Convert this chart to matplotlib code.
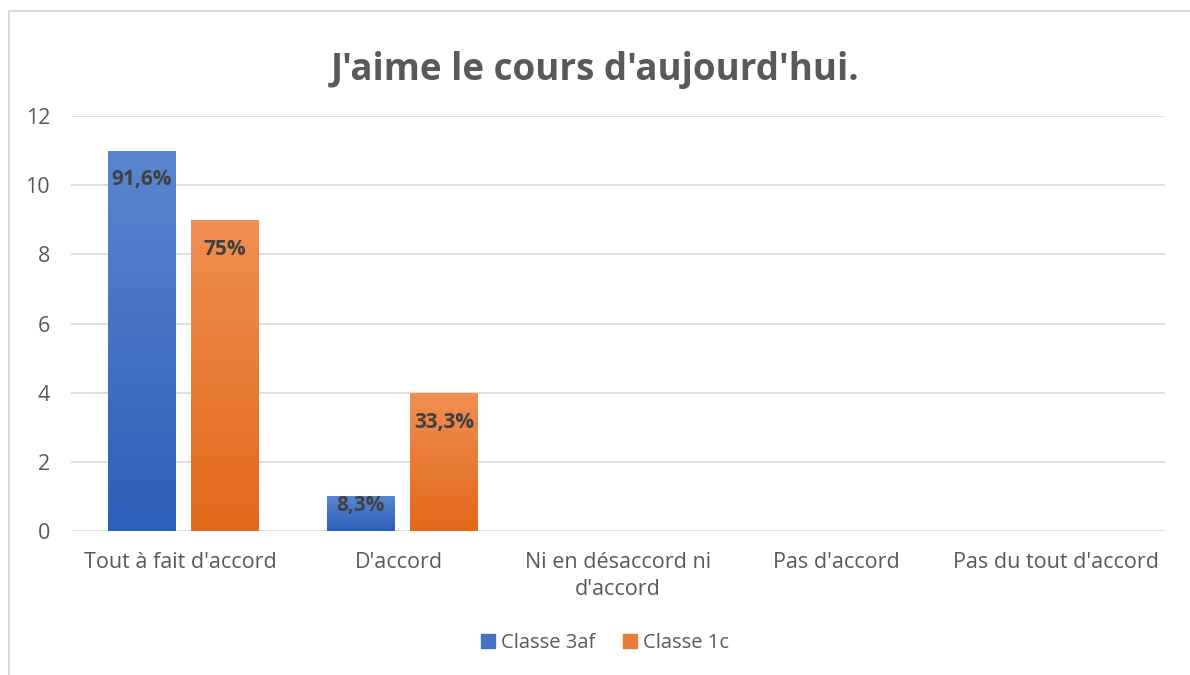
import numpy as np
import matplotlib.pyplot as plt
from matplotlib.colors import LinearSegmentedColormap
from matplotlib.patches import Rectangle

categories = ["Tout à fait d'accord", "D'accord", "Ni en désaccord ni\nd'accord",
              "Pas d'accord", "Pas du tout d'accord"]
series_names = ["Classe 3af", "Classe 1c"]
classe_3af = [11, 1, 0, 0, 0]
classe_1c = [9, 4, 0, 0, 0]
labels_3af = ["91,6%", "8,3%", "", "", ""]
labels_1c = ["75%", "33,3%", "", "", ""]
yticks = [0, 2, 4, 6, 8, 10, 12]

plt.rcParams['font.family'] = ['Open Sans', 'DejaVu Sans']

fig = plt.figure(figsize=(11.9, 6.75), dpi=100)
ax = fig.add_axes([71/1190, 1-531/675, 1094/1190, 415/675])

# chart frame (left and top edges visible)
fig.add_artist(Rectangle((9/1190, -0.1), 1.2, 1-11/675+0.1, transform=fig.transFigure,
                         fill=False, edgecolor='#d9d9d9', linewidth=1.5))

grads = {
    "Classe 3af": LinearSegmentedColormap.from_list('b', ['#2c5fba', '#5b86cf']),
    "Classe 1c": LinearSegmentedColormap.from_list('o', ['#e2681a', '#f08f52']),
}
flat = {"Classe 3af": '#4472c4', "Classe 1c": '#ed7d31'}

x = np.arange(len(categories))
w = 0.31
offs = [-0.175, 0.205]
grad = np.linspace(0, 1, 256).reshape(-1, 1)

for name, vals, labs, off in zip(series_names, [classe_3af, classe_1c], [labels_3af, labels_1c], offs):
    bars = ax.bar(x + off, vals, w, color=flat[name], label=name, zorder=2)
    for b, v, lab in zip(bars, vals, labs):
        if v <= 0:
            continue
        b.set_facecolor('none')
        b.set_edgecolor('none')
        x0 = b.get_x()
        im = ax.imshow(grad, cmap=grads[name], origin='lower', aspect='auto',
                       extent=[x0, x0 + w, 0, v], zorder=2)
        im.set_clip_path(b)
        ax.text(x0 + w / 2, max(v - 0.85, 0.75), lab, ha='center', va='center',
                fontsize=15, fontweight='bold', color='#404040', zorder=3)

ax.set_xlim(-0.5, len(categories) - 0.5)
ax.set_ylim(0, 12)
ax.set_yticks(yticks)
ax.set_xticks(x)
ax.set_xticklabels(categories, linespacing=1.4)
ax.grid(axis='y', color='#d9d9d9', linewidth=1.2, zorder=0)
ax.set_axisbelow(True)
for s in ax.spines.values():
    s.set_visible(False)
ax.tick_params(length=0, labelsize=15.5, colors='#595959', pad=15)
ax.tick_params(axis='y', pad=15)

fig.text(0.5, 1-70/675, "J'aime le cours d'aujourd'hui.", ha='center', va='center',
         fontsize=26.5, fontweight='bold', color='#595959')

handles = [Rectangle((0, 0), 1, 1, color=grads[n](0.5)) for n in series_names]
fig.legend(handles, series_names, loc='center', bbox_to_anchor=(605/1190, 1-643/675),
           ncol=2, frameon=False, fontsize=14.5, handlelength=0.7, handleheight=0.7,
           columnspacing=1.4, handletextpad=0.3, labelcolor='#595959')

fig.savefig('out.png', dpi=100)
